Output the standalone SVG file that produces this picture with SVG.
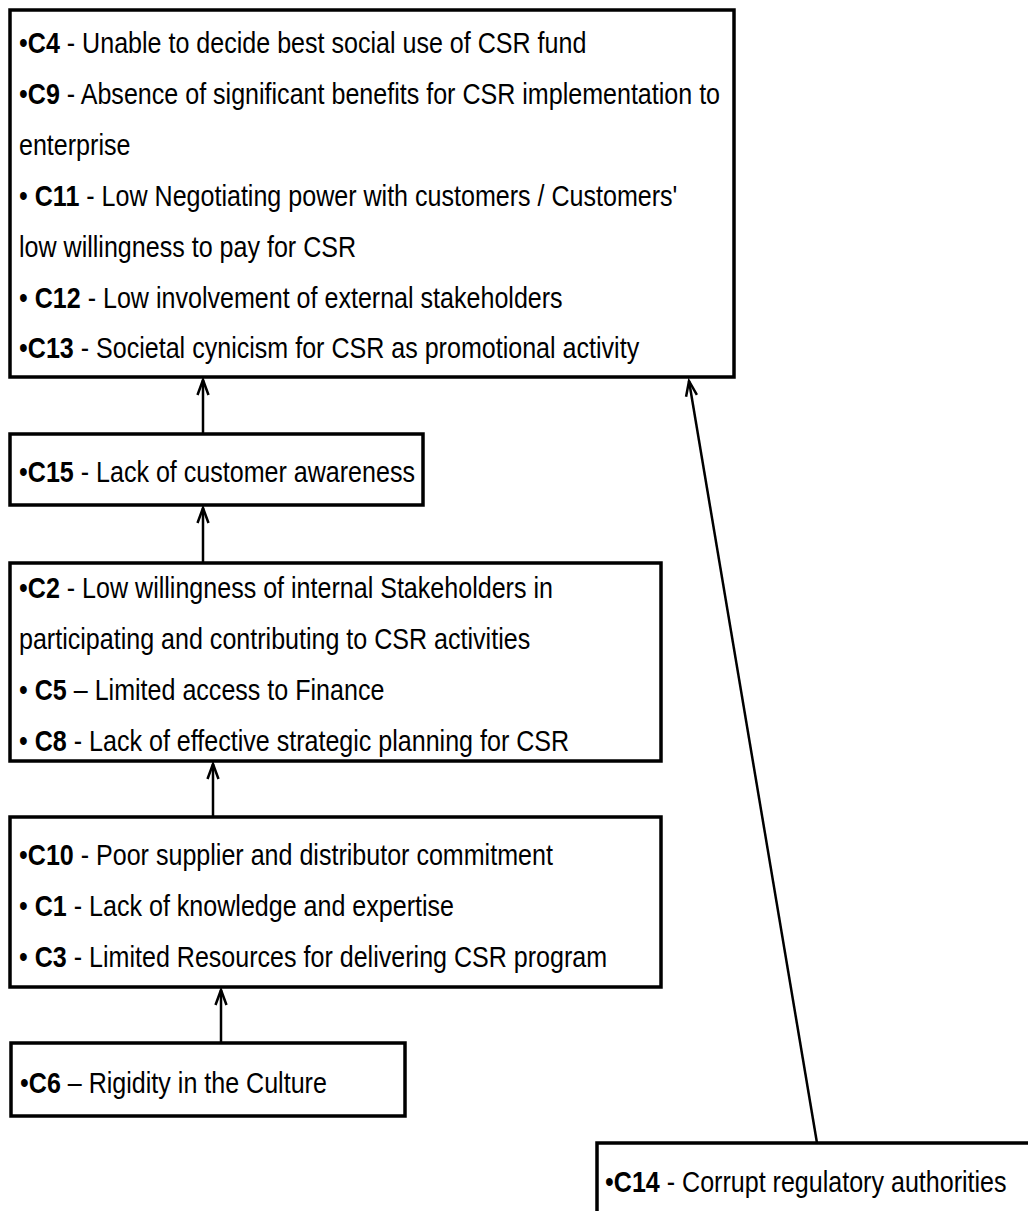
<svg xmlns="http://www.w3.org/2000/svg" width="1028" height="1211" viewBox="0 0 1028 1211">
<defs>
<style>
.box{fill:#fff;stroke:#000;stroke-width:3.5}
.t{font-family:"Liberation Sans",Arial,sans-serif;font-size:29.5px;fill:#000}
.b{font-weight:bold}
.con{stroke:#000;stroke-width:2.5;fill:none}
</style>
<marker id="ah" markerUnits="userSpaceOnUse" markerWidth="22" markerHeight="18" viewBox="-18 -9 22 18" refX="0" refY="0" orient="auto">
<path d="M-15,-5.5 L0,0 L-15,5.5" fill="none" stroke="#000" stroke-width="2.5"/>
</marker>
</defs>
<rect width="1028" height="1211" fill="#fff"/>
<g id="connectors">
<line class="con" x1="203" y1="434" x2="203" y2="380" marker-end="url(#ah)"/>
<line class="con" x1="203" y1="563" x2="203" y2="508" marker-end="url(#ah)"/>
<line class="con" x1="213" y1="817" x2="213" y2="764" marker-end="url(#ah)"/>
<line class="con" x1="221" y1="1043" x2="221" y2="990" marker-end="url(#ah)"/>
<line class="con" x1="817" y1="1143" x2="689" y2="381" marker-end="url(#ah)"/>
</g>
<g id="n1">
<rect class="box" x="10" y="10" width="724" height="367"/>
<text class="t" transform="translate(19,53) scale(0.85,1)">•<tspan class="b">C4</tspan> - Unable to decide best social use of CSR fund</text>
<text class="t" transform="translate(19,104) scale(0.85,1)">•<tspan class="b">C9</tspan> - Absence of significant benefits for CSR implementation to</text>
<text class="t" transform="translate(19,155) scale(0.85,1)">enterprise</text>
<text class="t" transform="translate(19,206) scale(0.85,1)">• <tspan class="b">C11</tspan> - Low Negotiating power with customers / Customers'</text>
<text class="t" transform="translate(19,257) scale(0.85,1)">low willingness to pay for CSR</text>
<text class="t" transform="translate(19,308) scale(0.85,1)">• <tspan class="b">C12</tspan> - Low involvement of external stakeholders</text>
<text class="t" transform="translate(19,358) scale(0.85,1)">•<tspan class="b">C13</tspan> - Societal cynicism for CSR as promotional activity</text>
</g>
<g id="n2">
<rect class="box" x="10" y="434" width="413" height="71"/>
<text class="t" transform="translate(19,482) scale(0.85,1)">•<tspan class="b">C15</tspan> - Lack of customer awareness</text>
</g>
<g id="n3">
<rect class="box" x="10" y="563" width="651" height="198"/>
<text class="t" transform="translate(19,598) scale(0.85,1)">•<tspan class="b">C2</tspan> - Low willingness of internal Stakeholders in</text>
<text class="t" transform="translate(19,649) scale(0.85,1)">participating and contributing to CSR activities</text>
<text class="t" transform="translate(19,700) scale(0.85,1)">• <tspan class="b">C5</tspan> – Limited access to Finance</text>
<text class="t" transform="translate(19,751) scale(0.85,1)">• <tspan class="b">C8</tspan> - Lack of effective strategic planning for CSR</text>
</g>
<g id="n4">
<rect class="box" x="10" y="817" width="651" height="170"/>
<text class="t" transform="translate(19,865) scale(0.85,1)">•<tspan class="b">C10</tspan> - Poor supplier and distributor commitment</text>
<text class="t" transform="translate(19,916) scale(0.85,1)">• <tspan class="b">C1</tspan> - Lack of knowledge and expertise</text>
<text class="t" transform="translate(19,967) scale(0.85,1)">• <tspan class="b">C3</tspan> - Limited Resources for delivering CSR program</text>
</g>
<g id="n5">
<rect class="box" x="11" y="1043" width="394" height="73"/>
<text class="t" transform="translate(20,1093) scale(0.85,1)">•<tspan class="b">C6</tspan> – Rigidity in the Culture</text>
</g>
<g id="n6">
<rect class="box" x="597" y="1143" width="450" height="100"/>
<text class="t" transform="translate(605,1192) scale(0.85,1)">•<tspan class="b">C14</tspan> - Corrupt regulatory authorities</text>
</g>
</svg>
